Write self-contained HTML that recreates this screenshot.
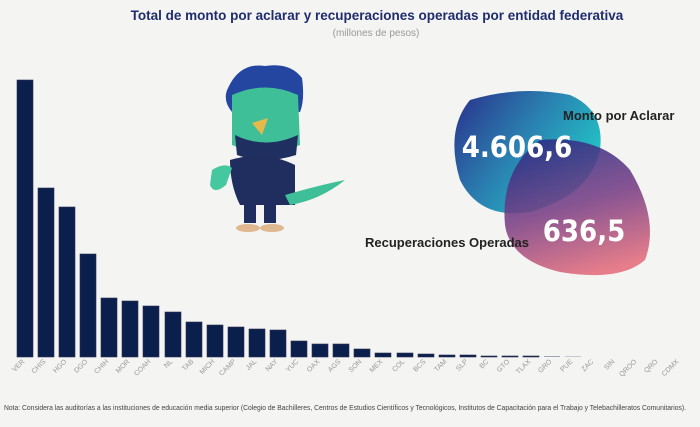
<!DOCTYPE html><html><head><meta charset="utf-8"><style>
body{margin:0;width:700px;height:422px;background:#f4f4f2;overflow:hidden;font-family:"Liberation Sans",sans-serif}
</style></head><body>
<svg width="700" height="422" viewBox="0 0 700 422" xmlns="http://www.w3.org/2000/svg">
<defs>
<linearGradient id="gb" x1="0" y1="0" x2="1" y2="0.6"><stop offset="0" stop-color="#2a2f8a"/><stop offset="0.5" stop-color="#2a7fb0"/><stop offset="1" stop-color="#22c8c8"/></linearGradient>
<linearGradient id="gp" x1="0.3" y1="0" x2="0.6" y2="1"><stop offset="0" stop-color="#2c2f85"/><stop offset="0.5" stop-color="#7a3f85"/><stop offset="1" stop-color="#e56d7c"/></linearGradient>
</defs>
<text x="377" y="20" text-anchor="middle" font-size="13.5" font-weight="bold" fill="#1f2d6e">Total de monto por aclarar y recuperaciones operadas por entidad federativa</text>
<text x="376" y="36" text-anchor="middle" font-size="10" fill="#999">(millones de pesos)</text>
<g fill="#0b1f4d" stroke="#2a3050" stroke-width="0.6">
<rect x="17" y="80" width="16" height="277"/><rect x="38" y="188" width="16" height="169"/><rect x="59" y="207" width="16" height="150"/><rect x="80" y="254" width="16" height="103"/>
<rect x="101" y="298" width="16" height="59"/><rect x="122" y="301" width="16" height="56"/><rect x="143" y="306" width="16" height="51"/><rect x="165" y="312" width="16" height="45"/>
<rect x="186" y="322" width="16" height="35"/><rect x="207" y="325" width="16" height="32"/><rect x="228" y="327" width="16" height="30"/><rect x="249" y="329" width="16" height="28"/>
<rect x="270" y="330" width="16" height="27"/><rect x="291" y="341" width="16" height="16"/><rect x="312" y="344" width="16" height="13"/><rect x="333" y="344" width="16" height="13"/>
<rect x="354" y="349" width="16" height="8"/><rect x="375" y="353" width="16" height="4"/><rect x="397" y="353" width="16" height="4"/><rect x="418" y="354" width="16" height="3"/>
<rect x="439" y="355" width="16" height="2"/><rect x="460" y="355" width="16" height="2"/><rect x="481" y="356" width="16" height="1"/><rect x="502" y="356" width="16" height="1"/><rect x="523" y="356" width="16" height="1"/>
</g>
<rect x="544" y="356" width="16" height="1" fill="#a0a4b8"/><rect x="565" y="356" width="16" height="1" fill="#c8c8cc"/>
<g font-size="7" fill="#999" text-anchor="end">
<text transform="translate(25,362) rotate(-45)">VER</text><text transform="translate(46,362) rotate(-45)">CHIS</text><text transform="translate(67,362) rotate(-45)">HGO</text><text transform="translate(88,362) rotate(-45)">DGO</text>
<text transform="translate(109,362) rotate(-45)">CHIH</text><text transform="translate(130,362) rotate(-45)">MOR</text><text transform="translate(151,362) rotate(-45)">COAH</text><text transform="translate(173,362) rotate(-45)">NL</text>
<text transform="translate(194,362) rotate(-45)">TAB</text><text transform="translate(215,362) rotate(-45)">MICH</text><text transform="translate(236,362) rotate(-45)">CAMP</text><text transform="translate(257,362) rotate(-45)">JAL</text>
<text transform="translate(278,362) rotate(-45)">NAY</text><text transform="translate(299,362) rotate(-45)">YUC</text><text transform="translate(320,362) rotate(-45)">OAX</text><text transform="translate(341,362) rotate(-45)">AGS</text>
<text transform="translate(362,362) rotate(-45)">SON</text><text transform="translate(383,362) rotate(-45)">MEX</text><text transform="translate(405,362) rotate(-45)">COL</text><text transform="translate(426,362) rotate(-45)">BCS</text>
<text transform="translate(447,362) rotate(-45)">TAM</text><text transform="translate(468,362) rotate(-45)">SLP</text><text transform="translate(489,362) rotate(-45)">BC</text><text transform="translate(510,362) rotate(-45)">GTO</text>
<text transform="translate(531,362) rotate(-45)">TLAX</text><text transform="translate(552,362) rotate(-45)">GRO</text><text transform="translate(573,362) rotate(-45)">PUE</text><text transform="translate(594,362) rotate(-45)">ZAC</text>
<text transform="translate(615,362) rotate(-45)">SIN</text><text transform="translate(637,362) rotate(-45)">QROO</text><text transform="translate(658,362) rotate(-45)">QRO</text><text transform="translate(679,362) rotate(-45)">CDMX</text>
</g>
<!-- bird -->
<g>
<path d="M228 88 Q240 62 265 66 Q290 62 302 78 Q305 100 300 112 L232 112 Q222 100 228 88Z" fill="#2446a0"/>
<path d="M232 95 Q265 80 298 95 L300 145 Q265 160 232 145Z" fill="#3fbf98"/>
<path d="M235 135 Q265 150 298 135 L296 155 Q265 165 237 155Z" fill="#1f3060"/>
<path d="M252 123 L268 118 L262 135Z" fill="#e8b84a"/>
<path d="M230 160 Q265 150 295 165 L295 205 L240 205 Q230 185 230 160Z" fill="#1f2e5e"/>
<path d="M212 170 Q225 162 232 168 L226 185 Q214 195 210 185Z" fill="#45c8a0"/>
<path d="M285 195 Q320 185 345 180 Q320 200 290 205Z" fill="#3fbf98"/>
<rect x="244" y="203" width="12" height="20" fill="#1f2e5e"/><rect x="264" y="203" width="12" height="20" fill="#1f2e5e"/>
<ellipse cx="248" cy="228" rx="12" ry="4" fill="#e0b890"/><ellipse cx="272" cy="228" rx="12" ry="4" fill="#e0b890"/>
</g>
<!-- blobs -->
<path d="M470 100 Q520 85 570 95 Q605 110 600 150 Q590 195 530 212 Q480 220 460 180 Q445 130 470 100Z" fill="url(#gb)"/>
<path d="M540 140 Q600 135 630 170 Q660 220 645 260 Q620 282 560 272 Q510 260 505 225 Q500 170 540 140Z" fill="url(#gp)" opacity="0.88"/>
<text x="517" y="157" text-anchor="middle" font-size="29" font-weight="bold" fill="#fff" font-family="DejaVu Sans Condensed, DejaVu Sans, sans-serif">4.606,6</text>
<text x="584" y="241" text-anchor="middle" font-size="29" font-weight="bold" fill="#fff" font-family="DejaVu Sans Condensed, DejaVu Sans, sans-serif">636,5</text>
<text x="563" y="120" font-size="13" font-weight="bold" fill="#222">Monto por Aclarar</text>
<text x="365" y="247" font-size="13" font-weight="bold" fill="#222">Recuperaciones Operadas</text>
<text x="4" y="410" font-size="7" fill="#444" textLength="682" lengthAdjust="spacingAndGlyphs">Nota: Considera las auditorías a las instituciones de educación media superior (Colegio de Bachilleres, Centros de Estudios Científicos y Tecnológicos, Institutos de Capacitación para el Trabajo y Telebachilleratos Comunitarios).</text>
</svg>
</body></html>
